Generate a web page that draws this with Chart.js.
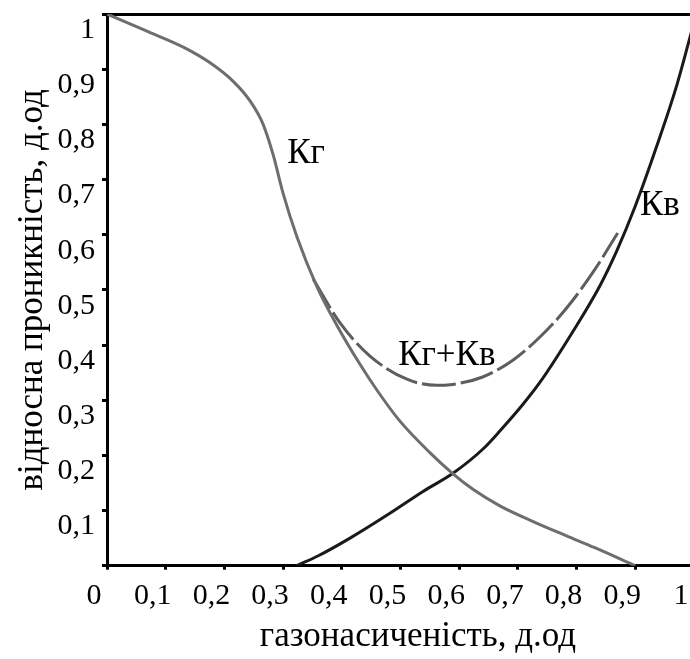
<!DOCTYPE html>
<html><head><meta charset="utf-8">
<script src="https://cdn.jsdelivr.net/npm/chart.js@4"></script>
<style>html,body{margin:0;padding:0;background:#fff;overflow:hidden}
#wrap{width:702px;height:659px;position:relative}</style></head>
<body><div id="wrap"><canvas id="c" width="702" height="659"></canvas></div>
<script>
// Tick values and labels
const xTickValues = [0,0.1,0.2,0.3,0.4,0.5,0.6,0.7,0.8,0.9,1];
const xTickLabels = ['0','0,1','0,2','0,3','0,4','0,5','0,6','0,7','0,8','0,9','1'];
const yTickValues = [0,0.1,0.2,0.3,0.4,0.5,0.6,0.7,0.8,0.9,1];
const yTickLabels = ['','0,1','0,2','0,3','0,4','0,5','0,6','0,7','0,8','0,9','1'];
const xTitle = 'газонасиченість, д.од';
const yTitle = 'відносна проникність, д.од';

// Кг (gas relative permeability)
const kgX = [0, 0.07, 0.13, 0.175, 0.215, 0.244, 0.266, 0.283, 0.30, 0.324, 0.358, 0.392, 0.431, 0.46, 0.499, 0.55, 0.59, 0.624, 0.67, 0.726, 0.783, 0.83, 0.9];
const kgY = [1.0, 0.968, 0.94, 0.912, 0.878, 0.842, 0.80, 0.745, 0.675, 0.595, 0.505, 0.435, 0.365, 0.318, 0.262, 0.205, 0.166, 0.138, 0.108, 0.080, 0.054, 0.033, 0.0];
// Кв (water relative permeability)
const kvX = [0.323, 0.36, 0.414, 0.482, 0.539, 0.59, 0.641, 0.67, 0.709, 0.738, 0.794, 0.84, 0.869, 0.90, 0.937, 0.971, 1.0];
const kvY = [0.0, 0.018, 0.050, 0.095, 0.135, 0.168, 0.212, 0.245, 0.293, 0.333, 0.425, 0.508, 0.572, 0.652, 0.762, 0.872, 0.985];
// Кг+Кв
const sumX = [0.351, 0.397, 0.448, 0.511, 0.562, 0.584, 0.64, 0.692, 0.738, 0.783, 0.828, 0.87];
const sumY = [0.52, 0.44, 0.38, 0.338, 0.327, 0.328, 0.342, 0.373, 0.415, 0.467, 0.532, 0.603];

// Curve annotations
const annText = ['Кг', 'Кв', 'Кг+Кв'];
const annX = [0.307, 0.908, 0.496];
const annY = [0.73, 0.636, 0.364];

const pts = (xs, ys) => xs.map((x, i) => ({x, y: ys[i]}));
const FONT = '"Liberation Serif", "DejaVu Serif", serif';

const annPlugin = {
  id: 'ann',
  afterDatasetsDraw(chart) {
    const {ctx, scales} = chart;
    ctx.save();
    ctx.font = '35px ' + FONT;
    ctx.fillStyle = '#000';
    ctx.textAlign = 'left';
    ctx.textBaseline = 'alphabetic';
    annText.forEach((t, i) => {
      ctx.fillText(t, scales.x.getPixelForValue(annX[i]), scales.y.getPixelForValue(annY[i]));
    });
    ctx.restore();
  }
};

new Chart(document.getElementById('c'), {
  type: 'scatter',
  data: {
    datasets: [
      {label: 'Кг', data: pts(kgX, kgY), showLine: true, borderColor: '#6e6e6e', borderWidth: 3, pointRadius: 0, cubicInterpolationMode: 'monotone'},
      {label: 'Кв', data: pts(kvX, kvY), showLine: true, borderColor: '#1a1a1a', borderWidth: 3, pointRadius: 0, cubicInterpolationMode: 'monotone'},
      {label: 'Кг+Кв', data: pts(sumX, sumY), showLine: true, borderColor: '#5e5e5e', borderWidth: 3, borderDash: [34, 5], pointRadius: 0, cubicInterpolationMode: 'monotone'}
    ]
  },
  options: {
    responsive: false,
    devicePixelRatio: 1,
    animation: false,
    layout: {padding: {left: 0, top: 14, right: 8, bottom: 0}},
    plugins: {legend: {display: false}, tooltip: {enabled: false}},
    scales: {
      x: {
        type: 'linear', min: 0, max: 1,
        afterBuildTicks: s => { s.ticks = xTickValues.map(v => ({value: v})); },
        afterFit: s => { s.height = 93.3; s.paddingLeft = 0; s.paddingRight = 0; },
        ticks: {
          callback: (v, i) => xTickLabels[i],
          font: {family: FONT, size: 30}, color: '#000',
          labelOffset: -13, padding: 8, maxRotation: 0, autoSkip: false
        },
        grid: {display: true, drawOnChartArea: false, drawTicks: true, tickLength: 4, color: '#000', lineWidth: 3},
        border: {display: true, color: '#000', width: 3},
        title: {display: true, text: '\u2002\u2002' + xTitle, font: {family: FONT, size: 35}, color: '#000', padding: {top: 1, bottom: 1}}
      },
      x2: {
        type: 'linear', position: 'top', min: 0, max: 1,
        ticks: {display: false},
        grid: {display: false, drawTicks: false},
        border: {display: true, color: '#000', width: 3}
      },
      y: {
        type: 'linear', min: 0, max: 1,
        afterBuildTicks: s => { s.ticks = yTickValues.map(v => ({value: v})); },
        afterFit: s => { s.width = 107; s.paddingTop = 0; s.paddingBottom = 0; },
        ticks: {
          callback: (v, i) => yTickLabels[i],
          font: {family: FONT, size: 30}, color: '#000',
          labelOffset: 16, padding: 7, autoSkip: false
        },
        grid: {display: true, drawOnChartArea: false, drawTicks: true, tickLength: 5, color: '#000', lineWidth: 3},
        border: {display: true, color: '#000', width: 3},
        title: {display: true, text: yTitle, font: {family: FONT, size: 35}, color: '#000', padding: {top: 12, bottom: 3}}
      }
    }
  },
  plugins: [annPlugin]
});
</script>
</body></html>
